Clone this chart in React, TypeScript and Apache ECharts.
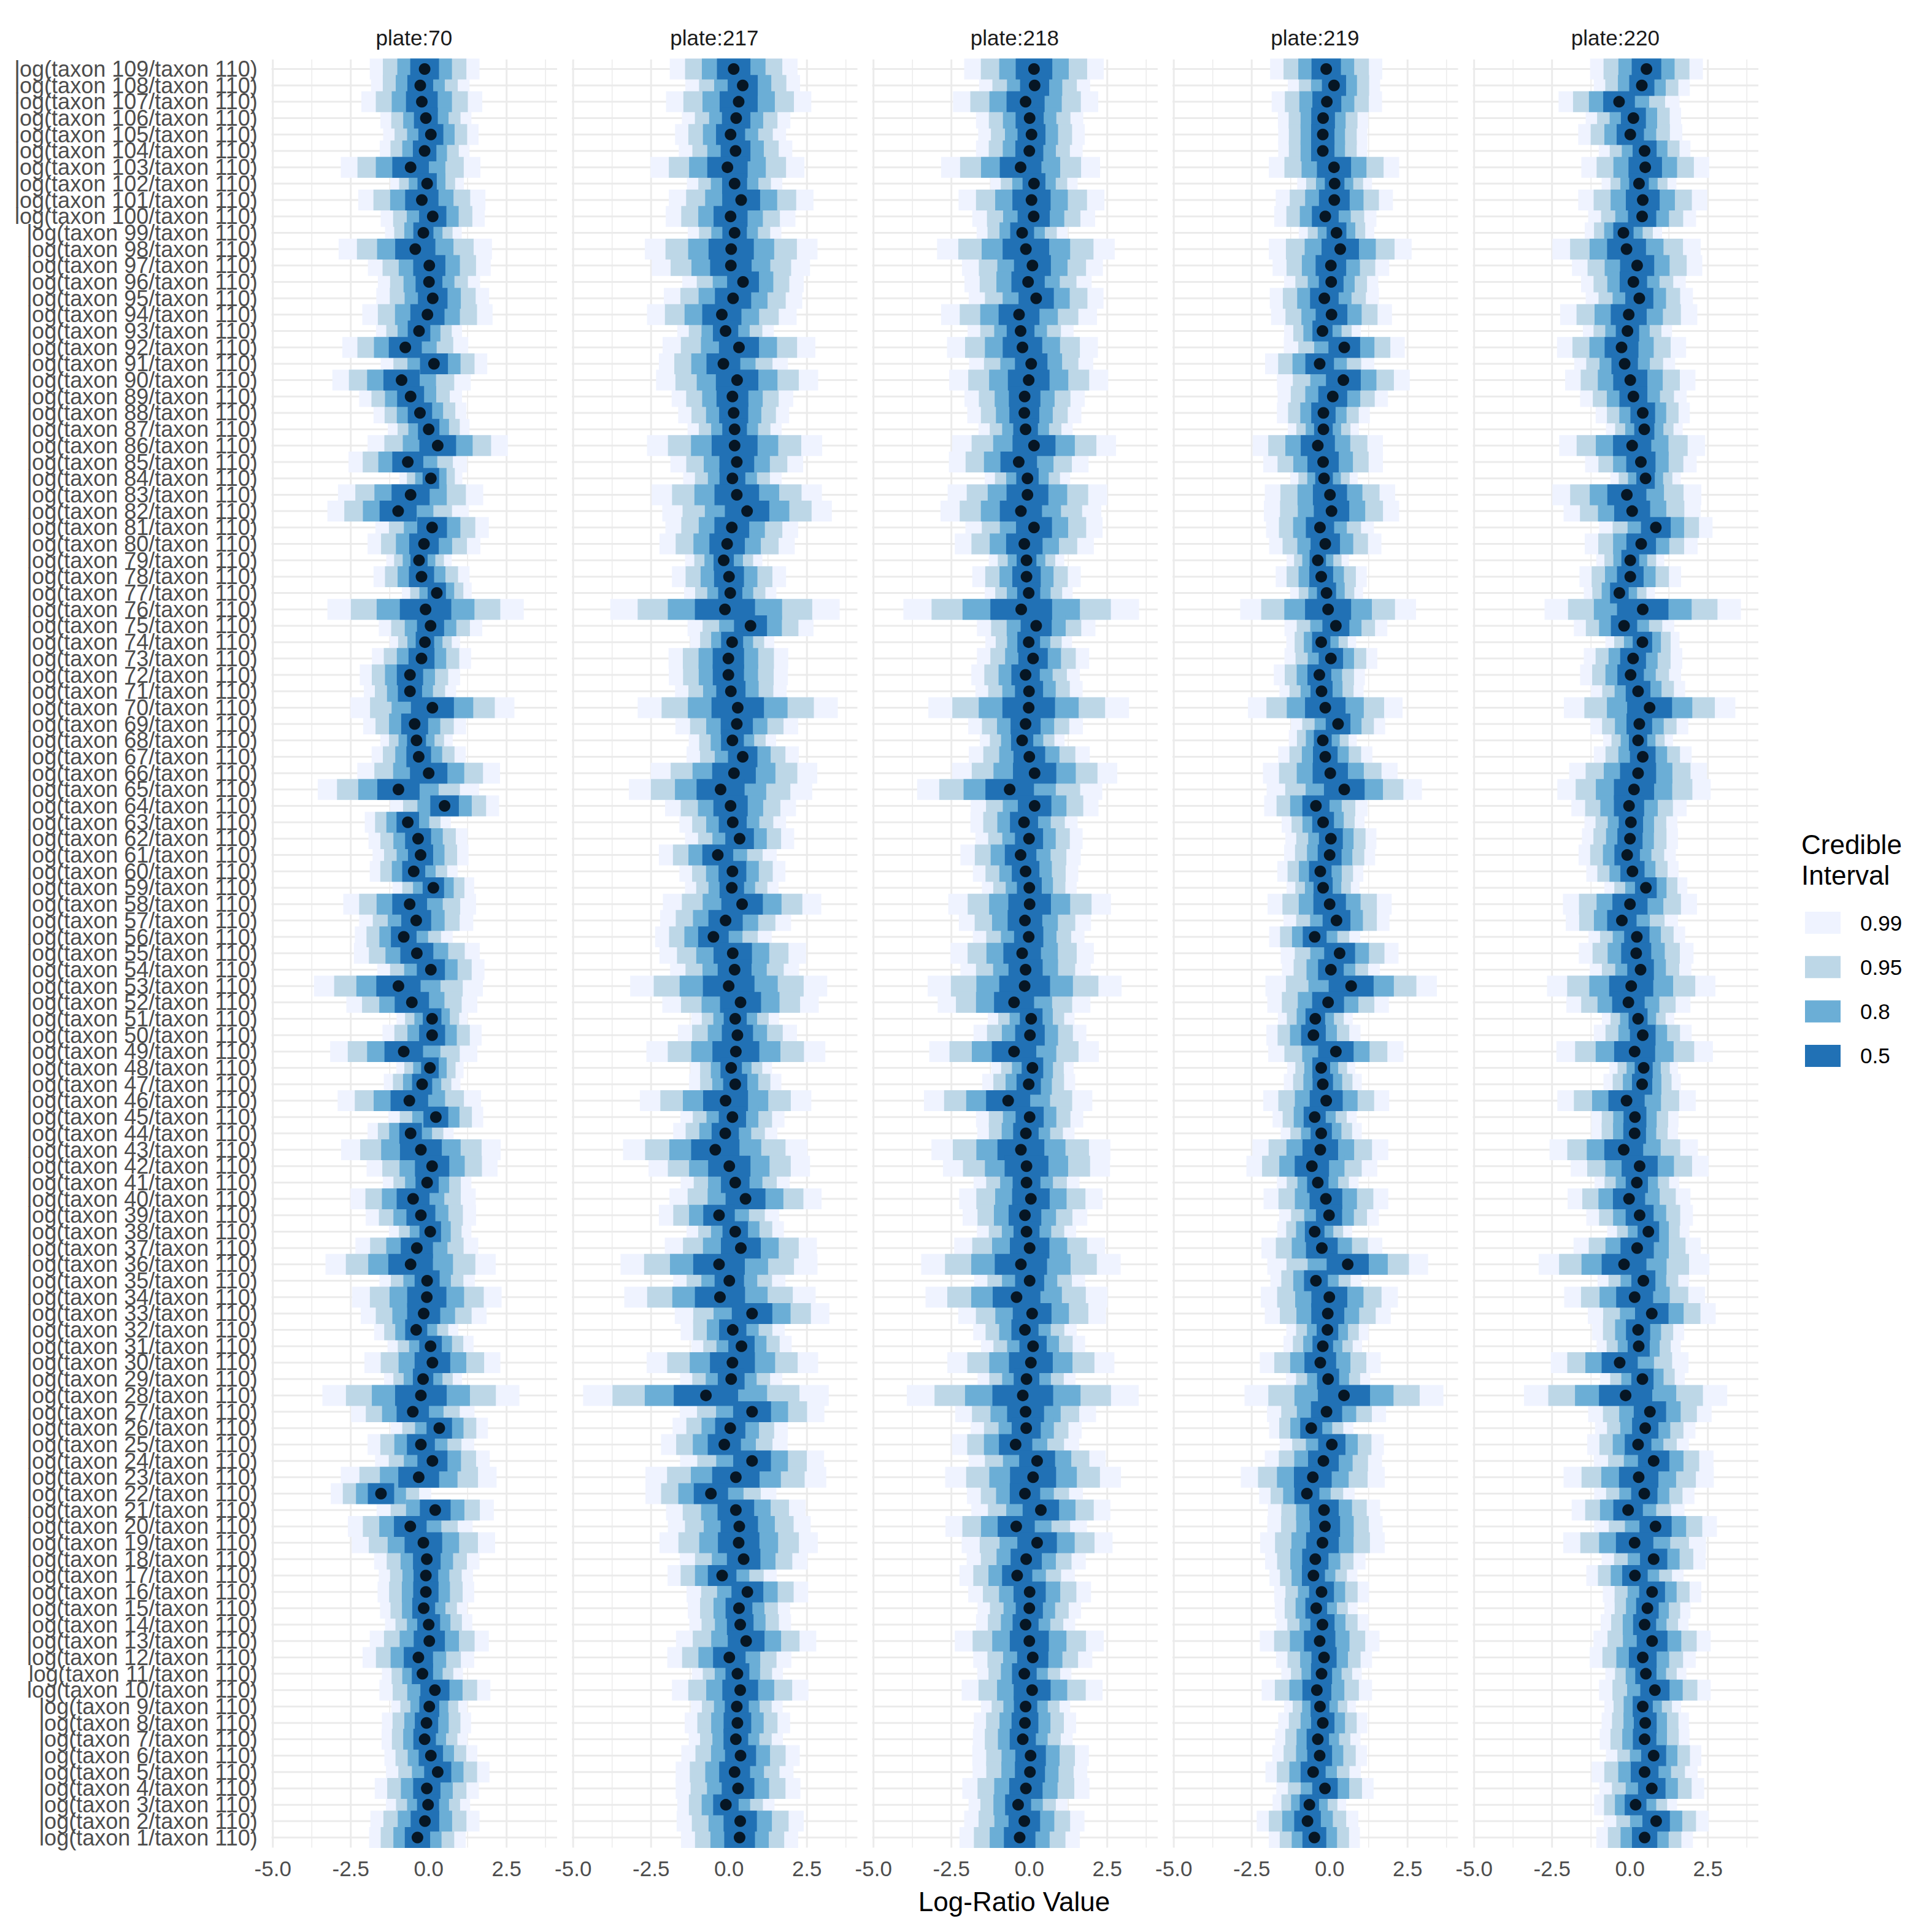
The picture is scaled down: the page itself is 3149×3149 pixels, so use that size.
import React, { useEffect, useRef } from "react";
import * as echarts from "echarts";

// ---------------- data ----------------
const plates = ["70", "217", "218", "219", "220"];
// rows listed top to bottom: taxon 109 ... taxon 1
const taxa: number[] = [];
for (let t = 109; t >= 1; t--) taxa.push(t);
const rowLabels = taxa.map((t) => `log(taxon ${t}/taxon 110)`);

const levels = ["0.99", "0.95", "0.8", "0.5"];
const levelColors = ["#EFF3FF", "#BDD7E7", "#6BAED6", "#2171B5"];
// half-width of each credible interval relative to the 99% half-width
const levelScale = [1, 0.761, 0.498, 0.262];

const xMajor = [-5, -2.5, 0, 2.5];
const xMinor = [-3.75, -1.25, 1.25, 3.75];

// posterior means (points), taxon 109 -> taxon 1
const mean70 = [
  -0.13, -0.27, -0.22, -0.09, 0.07, -0.13, -0.58, -0.05, -0.22, 0.13,
  -0.17, -0.43, 0.02, 0.01, 0.13, -0.04, -0.31, -0.75, 0.17, -0.87,
  -0.58, -0.28, 0.0, 0.29, -0.67, 0.07, -0.58, -0.98, 0.11, -0.15,
  -0.31, -0.23, 0.26, -0.1, 0.06, -0.12, -0.23, -0.6, -0.6, 0.12,
  -0.45, -0.39, -0.32, 0.0, -0.97, 0.51, -0.67, -0.34, -0.26, -0.48,
  0.15, -0.61, -0.4, -0.8, -0.38, 0.07, -0.97, -0.54, 0.11, 0.11,
  -0.8, 0.04, -0.21, -0.62, 0.23, -0.58, -0.25, 0.11, -0.05, -0.5,
  -0.25, 0.05, -0.38, -0.58, -0.05, -0.06, -0.16, -0.4, 0.06, 0.12,
  -0.18, -0.25, -0.51, 0.34, -0.25, 0.12, -0.32, -1.53, 0.21, -0.59,
  -0.17, -0.06, -0.09, -0.09, -0.16, 0.0, 0.02, -0.33, -0.2, 0.2,
  0.02, -0.07, -0.13, 0.07, 0.29, -0.06, -0.02, -0.12, -0.36,
];
// half-width of the 99% interval
const half70 = [
  1.76, 1.58, 1.94, 1.46, 1.53, 1.44, 2.24, 1.18, 2.04, 1.67,
  1.23, 2.46, 1.97, 1.64, 1.81, 2.09, 1.38, 2.02, 1.71, 2.22,
  1.65, 1.49, 1.31, 2.25, 1.9, 1.01, 2.33, 2.27, 1.82, 1.81,
  1.05, 1.54, 1.12, 3.15, 1.66, 1.13, 1.59, 1.61, 1.48, 2.63,
  1.65, 1.16, 1.51, 2.29, 2.59, 1.75, 1.38, 1.59, 1.54, 1.41,
  1.31, 2.13, 1.83, 1.57, 2.02, 1.72, 2.71, 2.1, 1.14, 1.59,
  2.36, 1.08, 1.23, 2.3, 1.52, 1.38, 2.56, 2.1, 1.42, 2.01,
  1.77, 1.32, 1.97, 2.73, 1.53, 2.4, 2.02, 1.35, 1.38, 2.18,
  1.25, 3.16, 1.98, 1.56, 1.71, 1.84, 2.5, 1.61, 1.88, 2.0,
  2.3, 1.69, 1.51, 1.55, 1.4, 1.4, 1.91, 1.79, 1.3, 1.78,
  1.22, 1.43, 1.38, 1.49, 1.66, 1.67, 1.35, 1.75, 1.55,
];

const mean217 = [
  0.15, 0.44, 0.31, 0.23, 0.05, 0.21, -0.05, 0.18, 0.39, 0.05,
  0.18, 0.07, 0.06, 0.45, 0.13, -0.23, -0.11, 0.32, -0.18, 0.26,
  0.11, 0.15, 0.18, 0.18, 0.25, 0.11, 0.25, 0.58, 0.09, -0.06,
  -0.17, 0.0, 0.04, -0.13, 0.69, 0.1, -0.02, -0.02, 0.06, 0.28,
  0.25, 0.11, 0.44, 0.16, -0.27, 0.05, 0.12, 0.34, -0.36, 0.11,
  0.09, 0.42, -0.11, -0.5, 0.12, 0.18, -0.01, 0.37, 0.2, 0.27,
  0.22, 0.07, 0.2, -0.11, 0.11, -0.12, -0.44, 0.01, 0.2, 0.53,
  -0.32, 0.2, 0.38, -0.32, 0.01, -0.29, 0.74, 0.12, 0.4, 0.11,
  0.07, -0.74, 0.74, 0.04, -0.15, 0.74, 0.22, -0.58, 0.22, 0.33,
  0.31, 0.47, -0.22, 0.59, 0.32, 0.36, 0.55, 0.01, 0.27, 0.36,
  0.25, 0.27, 0.22, 0.37, 0.18, 0.29, -0.1, 0.36, 0.34,
];
const half217 = [
  2.05, 1.84, 2.33, 1.74, 1.78, 1.82, 2.47, 1.53, 2.32, 2.08,
  1.5, 2.77, 2.54, 1.95, 2.22, 2.4, 1.55, 2.45, 2.07, 2.6,
  1.95, 1.78, 1.51, 2.81, 2.13, 1.58, 2.73, 2.72, 2.13, 2.17,
  1.24, 1.83, 1.48, 3.68, 2.02, 1.35, 1.92, 1.91, 1.79, 3.21,
  1.97, 1.4, 1.8, 2.67, 2.94, 2.1, 1.71, 1.75, 1.89, 1.7,
  1.5, 2.54, 2.1, 1.87, 2.35, 2.07, 3.16, 2.51, 1.41, 1.91,
  2.87, 1.31, 1.48, 2.75, 1.67, 1.67, 2.96, 2.59, 1.75, 2.44,
  1.93, 1.56, 2.44, 3.16, 1.8, 3.07, 2.48, 1.67, 1.61, 2.75,
  1.64, 3.94, 2.32, 1.85, 2.03, 2.31, 2.9, 2.1, 2.24, 2.29,
  2.54, 2.05, 1.75, 1.95, 1.64, 1.63, 2.25, 1.99, 1.46, 2.19,
  1.47, 1.69, 1.51, 1.9, 1.89, 2.0, 1.56, 2.04, 1.88,
];

const mean218 = [
  0.15, 0.17, -0.12, 0.01, 0.07, 0.0, -0.28, 0.15, 0.07, 0.14,
  -0.23, -0.11, 0.1, -0.04, 0.22, -0.33, -0.28, -0.22, 0.06, -0.02,
  -0.15, -0.16, -0.12, 0.15, -0.34, -0.06, -0.06, -0.27, 0.15, -0.16,
  -0.09, -0.09, -0.02, -0.26, 0.22, -0.02, 0.12, -0.12, -0.01, -0.02,
  -0.12, -0.23, 0.0, 0.17, -0.63, 0.17, -0.17, -0.01, -0.28, -0.12,
  0.0, 0.01, -0.14, -0.02, -0.23, -0.12, -0.15, -0.49, 0.06, 0.02,
  -0.49, 0.1, -0.02, -0.68, 0.01, -0.11, -0.27, -0.09, -0.09, 0.05,
  -0.14, -0.09, 0.01, -0.27, 0.01, -0.41, 0.09, -0.14, 0.12, 0.05,
  -0.09, -0.21, -0.12, -0.1, -0.44, 0.25, 0.12, -0.14, 0.37, -0.42,
  0.25, -0.1, -0.39, 0.01, 0.0, -0.12, 0.0, 0.11, -0.16, 0.09,
  -0.12, -0.14, -0.21, 0.04, 0.02, -0.11, -0.36, -0.16, -0.31,
];
const half218 = [
  2.24, 1.78, 2.33, 1.72, 1.71, 1.71, 2.55, 1.4, 2.34, 1.97,
  1.46, 2.85, 2.26, 2.04, 2.16, 2.5, 1.7, 2.42, 1.99, 2.55,
  1.93, 1.83, 1.51, 2.63, 2.24, 1.37, 2.56, 2.58, 2.2, 2.23,
  1.21, 1.74, 1.41, 3.78, 1.9, 1.39, 1.8, 1.74, 1.72, 3.22,
  1.84, 1.36, 1.94, 2.65, 2.97, 2.05, 1.72, 1.72, 1.93, 1.69,
  1.52, 2.61, 2.12, 1.79, 2.3, 2.09, 3.11, 2.45, 1.39, 1.81,
  2.72, 1.32, 1.49, 2.7, 1.72, 1.56, 2.87, 2.68, 1.7, 2.3,
  2.0, 1.59, 2.42, 3.2, 1.78, 2.92, 2.37, 1.66, 1.67, 2.68,
  1.57, 3.72, 2.26, 1.78, 2.04, 2.2, 2.82, 1.86, 2.23, 2.27,
  2.42, 1.91, 1.85, 1.97, 1.66, 1.59, 2.39, 1.91, 1.51, 2.26,
  1.43, 1.64, 1.6, 1.87, 1.84, 2.04, 1.59, 1.93, 1.93,
];

const mean219 = [
  -0.11, 0.14, -0.09, -0.21, -0.22, -0.22, 0.14, 0.16, 0.15, -0.14,
  0.22, 0.34, 0.04, 0.05, -0.17, 0.06, -0.23, 0.47, -0.32, 0.44,
  0.1, -0.2, -0.2, -0.38, -0.21, -0.18, 0.01, 0.06, -0.31, -0.14,
  -0.38, -0.27, -0.1, -0.05, 0.2, -0.27, 0.04, -0.33, -0.26, -0.14,
  0.27, -0.22, -0.14, 0.02, 0.47, -0.44, -0.21, 0.04, 0.0, -0.3,
  -0.21, 0.0, 0.22, -0.48, 0.32, 0.04, 0.69, -0.05, -0.46, -0.52,
  0.2, -0.27, -0.22, -0.11, -0.48, -0.27, -0.3, -0.57, -0.38, -0.12,
  -0.02, -0.48, -0.25, 0.58, -0.44, -0.01, -0.06, -0.07, -0.22, -0.3,
  -0.05, 0.46, -0.1, -0.59, 0.07, -0.2, -0.54, -0.73, -0.18, -0.15,
  -0.23, -0.46, -0.52, -0.26, -0.43, -0.23, -0.32, -0.18, -0.26, -0.41,
  -0.31, -0.22, -0.38, -0.32, -0.53, -0.15, -0.65, -0.71, -0.49,
];
const half219 = [
  1.8, 1.48, 1.77, 1.45, 1.43, 1.43, 2.09, 1.2, 1.88, 1.64,
  1.21, 2.29, 1.87, 1.51, 1.75, 1.94, 1.23, 1.94, 1.75, 2.13,
  1.77, 1.49, 1.14, 2.09, 1.92, 1.08, 2.09, 2.17, 1.73, 1.8,
  1.0, 1.46, 1.17, 2.82, 1.65, 1.12, 1.49, 1.46, 1.35, 2.48,
  1.51, 1.09, 1.51, 2.16, 2.49, 1.66, 1.33, 1.46, 1.46, 1.38,
  1.17, 1.99, 1.7, 1.46, 1.89, 1.57, 2.75, 1.95, 1.2, 1.51,
  2.17, 1.09, 1.25, 2.02, 1.35, 1.3, 2.18, 2.1, 1.31, 2.0,
  1.6, 1.2, 1.94, 2.58, 1.46, 2.2, 2.02, 1.32, 1.26, 1.94,
  1.35, 3.19, 1.91, 1.35, 1.67, 1.88, 2.31, 1.53, 1.8, 1.85,
  2.0, 1.61, 1.41, 1.52, 1.33, 1.48, 1.92, 1.54, 1.29, 1.77,
  1.15, 1.43, 1.37, 1.52, 1.53, 1.56, 1.18, 1.63, 1.46,
];

const mean220 = [
  0.53, 0.38, -0.35, 0.11, 0.01, 0.47, 0.49, 0.29, 0.41, 0.39,
  -0.21, -0.11, 0.23, 0.11, 0.3, -0.04, -0.08, -0.27, -0.17, 0.01,
  0.11, 0.41, 0.46, 0.07, 0.35, 0.5, -0.1, 0.07, 0.83, 0.36,
  0.01, 0.01, -0.34, 0.41, -0.19, 0.4, 0.1, 0.02, 0.26, 0.63,
  0.3, 0.26, 0.41, 0.26, 0.13, -0.03, 0.03, 0.0, -0.09, 0.08,
  0.51, 0.0, -0.26, 0.22, 0.2, 0.34, 0.04, -0.05, 0.26, 0.41,
  0.15, 0.44, 0.39, -0.11, 0.16, 0.15, -0.2, 0.31, 0.22, -0.03,
  0.31, 0.59, 0.23, -0.19, 0.43, 0.15, 0.7, 0.26, 0.28, -0.33,
  0.4, -0.14, 0.64, 0.49, 0.26, 0.76, 0.28, 0.46, -0.06, 0.82,
  0.15, 0.76, 0.16, 0.71, 0.56, 0.47, 0.71, 0.41, 0.51, 0.8,
  0.41, 0.49, 0.47, 0.76, 0.47, 0.7, 0.18, 0.84, 0.47,
];
const half220 = [
  1.81, 1.54, 1.94, 1.53, 1.67, 1.47, 2.05, 1.2, 2.07, 1.73,
  1.24, 2.38, 2.09, 1.68, 1.72, 2.2, 1.43, 2.07, 1.62, 2.09,
  1.71, 1.51, 1.23, 2.34, 1.79, 1.13, 2.39, 2.2, 1.82, 1.81,
  1.09, 1.63, 1.14, 3.15, 1.61, 1.19, 1.58, 1.62, 1.51, 2.75,
  1.57, 1.12, 1.57, 2.21, 2.46, 1.85, 1.49, 1.54, 1.56, 1.48,
  1.33, 2.15, 1.8, 1.55, 1.84, 1.63, 2.7, 1.99, 1.16, 1.57,
  2.51, 1.1, 1.24, 2.22, 1.4, 1.39, 2.38, 2.21, 1.36, 1.97,
  1.71, 1.32, 2.04, 2.74, 1.47, 2.26, 2.05, 1.48, 1.35, 2.21,
  1.36, 3.26, 1.98, 1.61, 1.63, 1.92, 2.41, 1.61, 1.81, 1.97,
  2.29, 1.67, 1.56, 1.58, 1.38, 1.41, 1.88, 1.7, 1.3, 1.79,
  1.23, 1.4, 1.44, 1.53, 1.7, 1.68, 1.33, 1.68, 1.55,
];

const means = [mean70, mean217, mean218, mean219, mean220];
const halves = [half70, half217, half218, half219, half220];

// ---------------- layout ----------------
const SIZE = 3149;
const GRID_LEFT0 = 444.7;
const GRID_STEP = 489.5;
const GRID_W = 462.3;
const GRID_TOP = 99.15;
const GRID_H = 2909.2;
const BAND_H = 34;
const DOT = 19;
const FONT = '"Liberation Sans", Arial, Helvetica, sans-serif';
const GRID_COLOR = "#EBEBEB";

function buildOption() {
  const grids: any[] = [];
  const xAxes: any[] = [];
  const yAxes: any[] = [];
  const series: any[] = [];
  const graphics: any[] = [];

  plates.forEach((plate, k) => {
    const left = GRID_LEFT0 + k * GRID_STEP;
    grids.push({
      left,
      top: GRID_TOP,
      width: GRID_W,
      height: GRID_H,
      containLabel: false,
      outerBoundsMode: "none",
    });
    xAxes.push({
      type: "value",
      gridIndex: k,
      min: -5,
      max: 4.1,
      interval: 2.5,
      axisLine: { show: false },
      axisTick: { show: false },
      splitLine: { show: false },
      axisLabel: {
        show: true,
        color: "#4D4D4D",
        fontSize: 35,
        fontFamily: FONT,
        margin: 20,
        showMaxLabel: false,
        showMinLabel: true,
        formatter: (v: number) => v.toFixed(1),
      },
    });
    yAxes.push({
      type: "category",
      gridIndex: k,
      data: rowLabels,
      inverse: true,
      axisLine: { show: false },
      axisTick: { show: false },
      splitLine: { show: false },
      axisLabel: {
        show: k === 0,
        interval: 0,
        color: "#4D4D4D",
        fontSize: 36,
        fontFamily: FONT,
        margin: 25,
      },
    });

    // panel grid lines
    series.push({
      type: "custom",
      xAxisIndex: k,
      yAxisIndex: k,
      z: 1,
      silent: true,
      data: [[0, 0]],
      encode: { x: 0, y: 1 },
      renderItem: (params: any, api: any) => {
        const cs = params.coordSys;
        const children: any[] = [];
        for (let i = 0; i < taxa.length; i++) {
          const y = api.coord([0, i])[1];
          children.push({
            type: "line",
            shape: { x1: cs.x - 2.2, y1: y, x2: cs.x + cs.width + 1, y2: y },
            style: { stroke: GRID_COLOR, lineWidth: 3 },
          });
        }
        xMinor.forEach((v) => {
          const x = api.coord([v, 0])[0];
          children.push({
            type: "line",
            shape: { x1: x, y1: cs.y - 2.2, x2: x, y2: cs.y + cs.height + 3.2 },
            style: { stroke: GRID_COLOR, lineWidth: 1.5 },
          });
        });
        xMajor.forEach((v) => {
          const x = api.coord([v, 0])[0];
          children.push({
            type: "line",
            shape: { x1: x, y1: cs.y - 2.2, x2: x, y2: cs.y + cs.height + 3.2 },
            style: { stroke: GRID_COLOR, lineWidth: 3 },
          });
        });
        return { type: "group", children };
      },
    });

    // credible interval bands, widest first
    const m = means[k];
    const h = halves[k];
    levels.forEach((lv, j) => {
      const color = levelColors[j];
      series.push({
        type: "custom",
        name: lv,
        xAxisIndex: k,
        yAxisIndex: k,
        z: 2,
        silent: true,
        encode: { y: 0, x: [1, 2] },
        data: taxa.map((_, i) => [i, m[i] - h[i] * levelScale[j], m[i] + h[i] * levelScale[j]]),
        renderItem: (params: any, api: any) => {
          const idx = api.value(0);
          const a = api.coord([api.value(1), idx]);
          const b = api.coord([api.value(2), idx]);
          return {
            type: "rect",
            shape: { x: a[0], y: a[1] - BAND_H / 2, width: b[0] - a[0], height: BAND_H },
            style: { fill: color },
          };
        },
      });
    });

    // points
    series.push({
      type: "scatter",
      xAxisIndex: k,
      yAxisIndex: k,
      z: 3,
      silent: true,
      symbol: "circle",
      symbolSize: DOT,
      itemStyle: { color: "#000000" },
      data: taxa.map((_, i) => [m[i], i]),
    });

    // facet strip title
    graphics.push({
      type: "text",
      x: left + GRID_W / 2 - 1,
      y: 61,
      silent: true,
      style: {
        text: "plate:" + plate,
        fontSize: 35,
        fontFamily: FONT,
        fill: "#1A1A1A",
        align: "center",
        verticalAlign: "middle",
      },
    });
  });

  // x-axis title
  graphics.push({
    type: "text",
    x: 1653,
    y: 3099,
    silent: true,
    style: {
      text: "Log-Ratio Value",
      fontSize: 44,
      fontFamily: FONT,
      fill: "#000000",
      align: "center",
      verticalAlign: "middle",
    },
  });

  // legend
  graphics.push({
    type: "text",
    x: 2936,
    y: 1376,
    silent: true,
    style: { text: "Credible", fontSize: 44, fontFamily: FONT, fill: "#000000", align: "left", verticalAlign: "middle" },
  });
  graphics.push({
    type: "text",
    x: 2936,
    y: 1426,
    silent: true,
    style: { text: "Interval", fontSize: 44, fontFamily: FONT, fill: "#000000", align: "left", verticalAlign: "middle" },
  });
  levels.forEach((lv, j) => {
    const cy = 1504 + j * 72.3;
    graphics.push({
      type: "rect",
      silent: true,
      shape: { x: 2942, y: cy - 18, width: 58, height: 36 },
      style: { fill: levelColors[j] },
    });
    graphics.push({
      type: "text",
      x: 3032,
      y: cy,
      silent: true,
      style: { text: lv, fontSize: 35, fontFamily: FONT, fill: "#000000", align: "left", verticalAlign: "middle" },
    });
  });

  return {
    animation: false,
    backgroundColor: "#ffffff",
    grid: grids,
    xAxis: xAxes,
    yAxis: yAxes,
    series,
    graphic: graphics,
  };
}

export default function App() {
  const ref = useRef<HTMLDivElement>(null);
  useEffect(() => {
    if (!ref.current) return;
    const chart = echarts.init(ref.current, undefined, { renderer: "svg", width: SIZE, height: SIZE });
    chart.setOption(buildOption());
    return () => {
      chart.dispose();
    };
  }, []);
  return (
    <div
      ref={ref}
      style={{ position: "absolute", left: 0, top: 0, width: SIZE, height: SIZE, background: "#ffffff" }}
    />
  );
}
